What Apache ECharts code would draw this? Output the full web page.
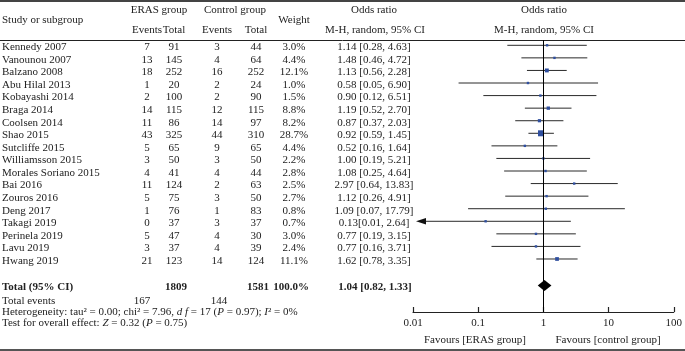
<!DOCTYPE html>
<html><head><meta charset="utf-8">
<script src="https://cdn.jsdelivr.net/npm/echarts@6/dist/echarts.min.js"></script>
<style>html,body{margin:0;padding:0;background:#fff}#c{width:685px;height:351px}</style>
</head><body><div id="c"></div>
<script>
const studies = ['Kennedy 2007','Vanounou 2007','Balzano 2008','Abu Hilal 2013','Kobayashi 2014','Braga 2014','Coolsen 2014','Shao 2015','Sutcliffe 2015','Williamsson 2015','Morales Soriano 2015','Bai 2016','Zouros 2016','Deng 2017','Takagi 2019','Perinela 2019','Lavu 2019','Hwang 2019'];
const erasEvents = [7,13,18,1,2,14,11,43,5,3,4,11,5,1,0,5,3,21];
const erasTotal  = [91,145,252,20,100,115,86,325,65,50,41,124,75,76,37,47,37,123];
const ctrlEvents = [3,4,16,2,2,12,14,44,9,3,4,2,3,1,3,4,4,14];
const ctrlTotal  = [44,64,252,24,90,115,97,310,65,50,44,63,50,83,37,30,39,124];
const weights    = [3.0,4.4,12.1,1.0,1.5,8.8,8.2,28.7,4.4,2.2,2.8,2.5,2.7,0.8,0.7,3.0,2.4,11.1];
const orValues   = [1.14,1.48,1.13,0.58,0.90,1.19,0.87,0.92,0.52,1.00,1.08,2.97,1.12,1.09,0.13,0.77,0.77,1.62];
const ciLow      = [0.28,0.46,0.56,0.05,0.12,0.52,0.37,0.59,0.16,0.19,0.25,0.64,0.26,0.07,0.01,0.19,0.16,0.78];
const ciHigh     = [4.63,4.72,2.28,6.90,6.51,2.70,2.03,1.45,1.64,5.21,4.64,13.83,4.91,17.79,2.64,3.15,3.71,3.35];
const orLabels   = ['1.14 [0.28, 4.63]','1.48 [0.46, 4.72]','1.13 [0.56, 2.28]','0.58 [0.05, 6.90]','0.90 [0.12, 6.51]','1.19 [0.52, 2.70]','0.87 [0.37, 2.03]','0.92 [0.59, 1.45]','0.52 [0.16, 1.64]','1.00 [0.19, 5.21]','1.08 [0.25, 4.64]','2.97 [0.64, 13.83]','1.12 [0.26, 4.91]','1.09 [0.07, 17.79]','0.13[0.01, 2.64]','0.77 [0.19, 3.15]','0.77 [0.16, 3.71]','1.62 [0.78, 3.35]'];
const weightLabels = weights.map(w => w.toFixed(1) + '%');
const xTicks = [0.01, 0.1, 1, 10, 100];
const totalOR = 1.04, totalLow = 0.82, totalHigh = 1.33;
const totalLabel = '1.04 [0.82, 1.33]';
const totalErasN = 1809, totalCtrlN = 1581, totalWeightLabel = '100.0%';
const totalErasEvents = 167, totalCtrlEvents = 144;

const FONT = '"Liberation Serif", "DejaVu Serif", serif';
const FS = 11;
const TXT = '#222';
const TOTAL_ROW = 19.1;
// column x centres (layout)
const COL = {name: 2, ee: 147, et: 174, ce: 217, ct: 256, w: 294, or: 374};

const chart = echarts.init(document.getElementById('c'), null, {renderer: 'canvas'});

function txt(x, y, text, align, bold) {
  return {type: 'text', x: x, y: y, silent: true,
    style: {text: String(text), align: align || 'center', verticalAlign: 'middle',
      fill: TXT, fontFamily: FONT, fontSize: FS, fontWeight: bold ? 'bold' : 'normal'}};
}

const tableData = studies.map((s, i) => [1, i]);

const option = {
  animation: false,
  backgroundColor: '#fff',
  grid: {left: 413, right: 10, top: 40, bottom: 39, containLabel: false},
  xAxis: {
    type: 'log', logBase: 10, min: 0.01, max: 100,
    axisLine: {show: true, onZero: false, lineStyle: {color: '#222', width: 1.2}},
    axisTick: {show: true, inside: true, length: 5, lineStyle: {color: '#222', width: 1.2}},
    minorTick: {show: false},
    splitLine: {show: false},
    axisLabel: {color: TXT, fontFamily: FONT, fontSize: FS, margin: 6,
      formatter: v => { const t = xTicks.find(k => Math.abs(Math.log10(k) - Math.log10(v)) < 1e-6); return t === undefined ? '' : String(t); }}
  },
  yAxis: {type: 'value', inverse: true, min: -0.4216, max: 21.217, show: false},
  graphic: [
    {type: 'line', shape: {x1: 0, y1: 1, x2: 685, y2: 1}, style: {stroke: '#444', lineWidth: 2}},
    {type: 'line', shape: {x1: 0, y1: 40.5, x2: 685, y2: 40.5}, style: {stroke: '#222', lineWidth: 1}},
    {type: 'line', shape: {x1: 0, y1: 350, x2: 685, y2: 350}, style: {stroke: '#555', lineWidth: 2}},
    txt(2, 20.5, 'Study or subgroup', 'left'),
    txt(159, 10, 'ERAS group'), txt(COL.ee, 30.5, 'Events'), txt(COL.et, 30.5, 'Total'),
    txt(235, 10, 'Control group'), txt(COL.ce, 30.5, 'Events'), txt(COL.ct, 30.5, 'Total'),
    txt(COL.w, 20.5, 'Weight'),
    txt(COL.or, 10, 'Odds ratio'), txt(COL.or + 1, 30.5, 'M-H, random, 95% CI'),
    txt(544, 10, 'Odds ratio'), txt(544, 30.5, 'M-H, random, 95% CI'),
    txt(2, 301, 'Total events', 'left'),
    txt(COL.ee - 5, 301, totalErasEvents), txt(COL.ce + 2, 301, totalCtrlEvents),
    {type: 'text', x: 2, y: 311.7, silent: true, style: {
      text: '{n|Heterogeneity: tau² = 0.00; chi² = 7.96, }{i|d f}{n| = 17 (}{i|P}{n| = 0.97); }{i|I}{n|² = 0%}',
      verticalAlign: 'middle', align: 'left',
      rich: {n: {fontFamily: FONT, fontSize: FS, fill: TXT},
             i: {fontFamily: FONT, fontSize: FS, fill: TXT, fontStyle: 'italic'}}}},
    {type: 'text', x: 2, y: 323.3, silent: true, style: {
      text: '{n|Test for overall effect: }{i|Z}{n| = 0.32 (}{i|P}{n| = 0.75)}',
      verticalAlign: 'middle', align: 'left',
      rich: {n: {fontFamily: FONT, fontSize: FS, fill: TXT}, i: {fontFamily: FONT, fontSize: FS, fill: TXT, fontStyle: 'italic'}}}},
    txt(475, 340, 'Favours [ERAS group]'),
    txt(608, 340, 'Favours [control group]')
  ],
  series: [
    {
      type: 'custom', name: 'table', clip: false, silent: true,
      data: tableData,
      encode: {x: 0, y: 1},
      renderItem: function (params, api) {
        const i = api.value(1);
        const y = api.coord([1, i])[1] + 2;
        return {type: 'group', children: [
          txt(COL.name, y, studies[i], 'left'),
          txt(COL.ee, y, erasEvents[i]), txt(COL.et, y, erasTotal[i]),
          txt(COL.ce, y, ctrlEvents[i]), txt(COL.ct, y, ctrlTotal[i]),
          txt(COL.w, y, weightLabels[i]), txt(COL.or, y, orLabels[i])
        ]};
      }
    },
    {
      type: 'custom', name: 'totalRow', clip: false, silent: true,
      data: [[totalOR, totalLow, totalHigh, TOTAL_ROW]],
      encode: {x: [0, 1, 2], y: 3},
      renderItem: function (params, api) {
        const r = api.value(3);
        const c = api.coord([api.value(0), r]);
        const l = api.coord([api.value(1), r]);
        const h = api.coord([api.value(2), r]);
        const ty = c[1] + 2;
        return {type: 'group', children: [
          {type: 'polygon', shape: {points: [[l[0], c[1]], [c[0], c[1] - 5.5], [h[0], c[1]], [c[0], c[1] + 5.5]]}, style: {fill: '#000'}},
          txt(COL.name, ty, 'Total (95% CI)', 'left', true),
          txt(COL.et + 2, ty, totalErasN, 'center', true),
          txt(COL.ct + 2, ty, totalCtrlN, 'center', true),
          txt(COL.w - 3, ty, totalWeightLabel, 'center', true),
          txt(COL.or + 1, ty, totalLabel, 'center', true)
        ]};
      }
    },
    {
      type: 'custom', name: 'ci', clip: false, silent: true,
      data: studies.map((s, i) => [orValues[i], ciLow[i], ciHigh[i], i, weights[i]]),
      encode: {x: [0, 1, 2], y: 3},
      renderItem: function (params, api) {
        const r = api.value(3);
        const c = api.coord([api.value(0), r]);
        const lo = api.value(1);
        const l = api.coord([Math.max(lo, 0.01), r]);
        const h = api.coord([api.value(2), r]);
        const s = Math.max(2.4, 1.12 * Math.sqrt(api.value(4)));
        const children = [];
        const arrow = lo <= 0.01;
        const x0 = arrow ? l[0] + 3 : l[0];
        children.push({type: 'line', shape: {x1: x0 + (arrow ? 6 : 0), y1: c[1], x2: h[0], y2: c[1]}, style: {stroke: '#2a2a2a', lineWidth: 1}});
        if (arrow) {
          children.push({type: 'polygon', shape: {points: [[x0, c[1]], [x0 + 10, c[1] - 3.2], [x0 + 10, c[1] + 3.2]]}, style: {fill: '#111'}});
        }
        children.push({type: 'rect', shape: {x: c[0] - s / 2, y: c[1] - s / 2, width: s, height: s}, style: {fill: '#2f4f9f'}});
        return {type: 'group', children: children};
      },
      markLine: {
        silent: true, symbol: 'none', animation: false,
        label: {show: false},
        lineStyle: {color: '#000', width: 1, type: 'solid'},
        data: [{xAxis: 1}]
      }
    }
  ]
};
chart.setOption(option);
</script>
</body></html>
